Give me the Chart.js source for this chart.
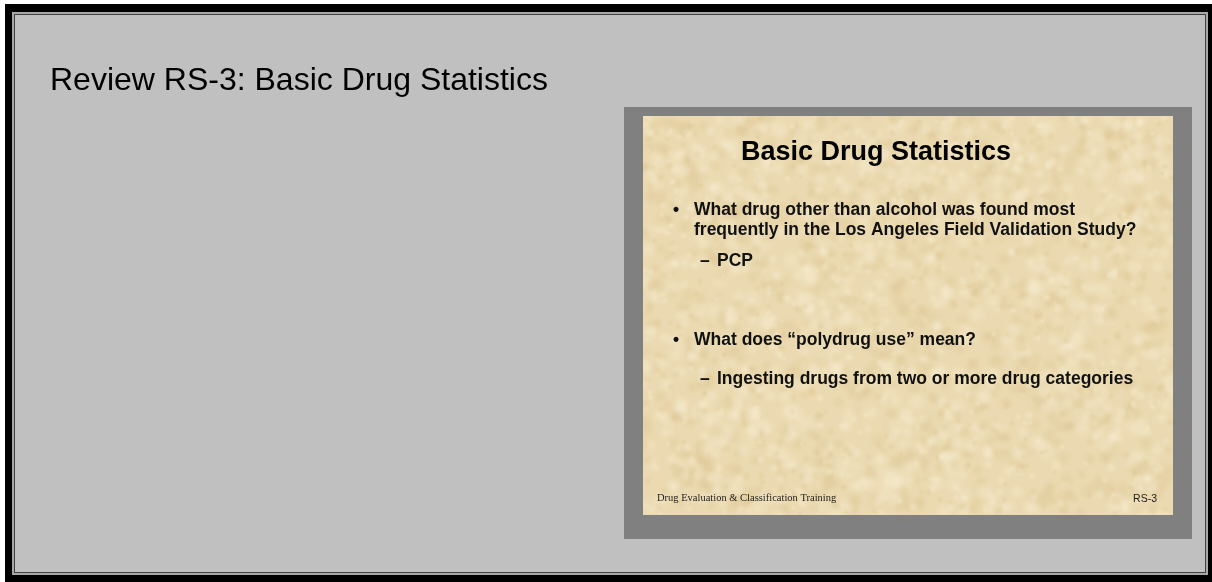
<!DOCTYPE html>
<html>
<head>
<meta charset="utf-8">
<style>
  html, body { margin: 0; padding: 0; background: #ffffff; }
  #c { display: block; }
</style>
<script src="https://cdn.jsdelivr.net/npm/chart.js@4/dist/chart.umd.min.js"></script>
</head>
<body>
<canvas id="c" width="1212" height="582"></canvas>
<script>
// ---- content (text only; this reference contains no numeric series) ----
const pageTitle = "Review RS-3: Basic Drug Statistics";
const slideTitle = "Basic Drug Statistics";
const bulletLines = [
  ["What drug other than alcohol was found most", "frequently in the Los Angeles Field Validation Study?"],
  ["What does \u201cpolydrug use\u201d mean?"]
];
const subBulletLines = ["PCP", "Ingesting drugs from two or more drug categories"];
const footerLeft = "Drug Evaluation & Classification Training";
const footerRight = "RS-3";

// deterministic hash for the parchment texture (decoration only)
function hash(i, k) {
  const s = Math.sin(i * 127.1 + k * 311.7) * 43758.5453;
  return s - Math.floor(s);
}

const slidePlugin = {
  id: 'slidePage',
  beforeDraw(chart) {
    const ctx = chart.ctx;
    ctx.save();
    // page + window frame
    ctx.fillStyle = '#ffffff'; ctx.fillRect(0, 0, 1212, 582);
    ctx.fillStyle = '#000000'; ctx.fillRect(5, 4, 1207, 578);
    ctx.fillStyle = '#a8a8a8'; ctx.fillRect(12, 12, 1196, 563);
    ctx.fillStyle = '#404040'; ctx.fillRect(14, 14, 1192, 559);
    ctx.fillStyle = '#c0c0c0'; ctx.fillRect(15, 15, 1190, 557);

    // page title
    ctx.fillStyle = '#000000';
    ctx.textBaseline = 'alphabetic';
    ctx.textAlign = 'left';
    ctx.font = '32px "Liberation Sans", Arial, sans-serif';
    ctx.fillText(pageTitle, 50, 90);

    // slide shadow / backdrop
    ctx.fillStyle = '#808080'; ctx.fillRect(624, 107, 568, 432);

    // slide parchment
    const sx = 643, sy = 116, sw = 530, sh = 399;
    ctx.save();
    ctx.beginPath(); ctx.rect(sx, sy, sw, sh); ctx.clip();
    ctx.fillStyle = '#ebdab1'; ctx.fillRect(sx, sy, sw, sh);
    for (let i = 0; i < 2200; i++) {
      const x = sx + hash(i, 1) * sw;
      const y = sy + hash(i, 2) * sh;
      const r = 3 + hash(i, 3) * 8;
      const light = hash(i, 4) > 0.5;
      const g = ctx.createRadialGradient(x, y, 0, x, y, r);
      g.addColorStop(0, light ? 'rgba(246,236,208,0.45)' : 'rgba(218,194,142,0.35)');
      g.addColorStop(1, light ? 'rgba(246,236,208,0)' : 'rgba(218,194,142,0)');
      ctx.fillStyle = g;
      ctx.fillRect(x - r, y - r, 2 * r, 2 * r);
    }
    ctx.restore();

    // slide title
    ctx.fillStyle = '#000000';
    ctx.font = 'bold 27px "Liberation Sans", Arial, sans-serif';
    ctx.fillText(slideTitle, 741, 160);

    // bullets
    ctx.fillStyle = '#111111';
    ctx.font = 'bold 17.5px "Liberation Sans", Arial, sans-serif';
    const bulletY = [[215, 235], [345]];
    bulletLines.forEach((lines, bi) => {
      ctx.fillText('\u2022', 673, bulletY[bi][0]);
      lines.forEach((ln, li) => ctx.fillText(ln, 694, bulletY[bi][li]));
    });
    const subY = [266, 384];
    subBulletLines.forEach((ln, i) => {
      ctx.fillText('\u2013', 700, subY[i]);
      ctx.fillText(ln, 717, subY[i]);
    });

    // footer
    ctx.fillStyle = '#222222';
    ctx.font = '10.5px "Liberation Serif", "Times New Roman", serif';
    ctx.fillText(footerLeft, 657, 501);
    ctx.font = '10.5px "Liberation Sans", Arial, sans-serif';
    ctx.textAlign = 'right';
    ctx.fillText(footerRight, 1157, 502);
    ctx.restore();
  }
};

new Chart(document.getElementById('c'), {
  type: 'bar',
  data: { labels: [], datasets: [] },
  options: {
    responsive: false,
    animation: false,
    devicePixelRatio: 1,
    events: [],
    layout: { padding: 0 },
    plugins: { legend: { display: false }, tooltip: { enabled: false }, title: { display: false } },
    scales: { x: { display: false }, y: { display: false } }
  },
  plugins: [slidePlugin]
});
</script>
</body>
</html>
